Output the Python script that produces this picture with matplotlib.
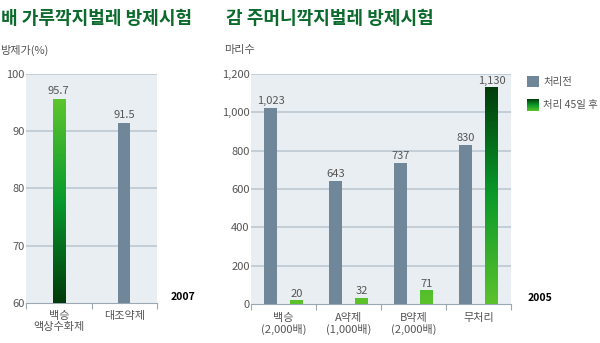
import matplotlib
matplotlib.use('Agg')
import matplotlib.pyplot as plt
from matplotlib.colors import LinearSegmentedColormap
from matplotlib.patches import Rectangle
import numpy as np

plt.rcParams['font.family'] = ['Noto Sans CJK KR', 'DejaVu Sans']

# left chart: 배 가루깍지벌레
pear_labels = ['백승\n액상수화제', '대조약제']
pear_values = [95.7, 91.5]
pear_ticks = [60, 70, 80, 90, 100]

# right chart: 감 주머니깍지벌레
pers_labels = ['백승\n(2,000배)', 'A약제\n(1,000배)', 'B약제\n(2,000배)', '무처리']
pers_before = [1023, 643, 737, 830]
pers_after = [20, 32, 71, 1130]
pers_ticks = [0, 200, 400, 600, 800, 1000, 1200]
legend_names = ['처리전', '처리 45일 후']

W, H = 600, 343
BG = '#e9eef2'
GRID = '#bcc8d2'
GRAY_BAR = '#6f8799'
TXT = '#555555'
TITLE = '#0b6a2c'

green_up = LinearSegmentedColormap.from_list('gup', ['#013a0b', '#089a2c', '#5ec52e'])
green_down = LinearSegmentedColormap.from_list('gdn', ['#5cc22c', '#0a9a2a', '#013d0b'])

fig = plt.figure(figsize=(W / 100, H / 100), dpi=100)


def px_axes(x0, x1, y0, y1):
    return fig.add_axes([x0 / W, 1 - y1 / H, (x1 - x0) / W, (y1 - y0) / H])


def style_axes(ax, ticks, fmt):
    ax.set_facecolor(BG)
    for s in ['top', 'right', 'left']:
        ax.spines[s].set_visible(False)
    ax.spines['bottom'].set_color('#9aa8b4')
    ax.set_yticks(ticks)
    ax.set_yticklabels([fmt(t) for t in ticks])
    ax.set_ylim(ticks[0], ticks[-1])
    ax.tick_params(axis='y', length=0, pad=1, labelsize=8, labelcolor=TXT)
    for t in ticks[1:]:
        ax.axhline(t, color=GRID, lw=1.2, zorder=1)


def gradient_bar(ax, x, w, val, cmap, lo, hi):
    bar = ax.bar(x, val - lo, width=w, bottom=lo, color='none', zorder=3)[0]
    grad = np.linspace(0, 1, 256).reshape(-1, 1)
    im = ax.imshow(grad, cmap=cmap, origin='lower', aspect='auto',
                   extent=(x - w / 2, x + w / 2, lo, hi), zorder=3)
    im.set_clip_path(bar)


# ---- left chart
ax1 = px_axes(26, 157, 74, 303)
style_axes(ax1, pear_ticks, lambda t: f'{t}')
ax1.set_xlim(-0.5, 1.5)
bw = 0.19
gradient_bar(ax1, 0, bw, pear_values[0], green_up, 60, pear_values[0])
ax1.bar(1, pear_values[1] - 60, width=bw, bottom=60, color=GRAY_BAR, zorder=3)
for i, v in enumerate(pear_values):
    ax1.text(i, v + 0.4, f'{v}', ha='center', va='bottom', fontsize=8, color=TXT)
ax1.set_ylim(60, 100)
ax1.set_xticks([-0.5, 0.5, 1.5], minor=False)
ax1.set_xticklabels([])
ax1.tick_params(axis='x', length=4, color='#9aa8b4')
for i, lab in enumerate(pear_labels):
    ax1.text(i, 58.6, lab, ha='center', va='top', fontsize=8, color=TXT, linespacing=1.1)
ax1.text(1.7, 60.2, '2007', ha='left', va='bottom', fontsize=7.5, fontweight='bold', color='black')

# ---- right chart
ax2 = px_axes(251, 511, 74, 304)
style_axes(ax2, pers_ticks, lambda t: f'{t:,}')
ax2.set_xlim(-0.5, 3.5)
bw2 = 0.2
xs = np.arange(len(pers_labels))
ax2.bar(xs - 0.2, pers_before, width=bw2, color=GRAY_BAR, zorder=3)
for i, v in enumerate(pers_after):
    gradient_bar(ax2, xs[i] + 0.2, bw2, v, green_down, 0, max(pers_after))
for i in range(len(xs)):
    ax2.text(xs[i] - 0.2, pers_before[i] + 8, f'{pers_before[i]:,}', ha='center', va='bottom',
             fontsize=8, color=TXT)
    ax2.text(xs[i] + 0.2, pers_after[i] + 8, f'{pers_after[i]:,}', ha='center', va='bottom',
             fontsize=8, color=TXT)
ax2.set_ylim(0, 1200)
ax2.set_xticks([-0.5, 0.5, 1.5, 2.5, 3.5])
ax2.set_xticklabels([])
ax2.tick_params(axis='x', length=4, color='#9aa8b4')
for i, lab in enumerate(pers_labels):
    ax2.text(xs[i], -45, lab, ha='center', va='top', fontsize=8, color=TXT, linespacing=1.1)
ax2.text(3.75, 5, '2005', ha='left', va='bottom', fontsize=7.5, fontweight='bold', color='black')

# legend drawn in figure pixels
fig.patches.append(Rectangle((527 / W, 1 - 87 / H), 12 / W, 11 / H, transform=fig.transFigure,
                             facecolor=GRAY_BAR, edgecolor='none'))
lax = fig.add_axes([527 / W, 1 - 111 / H, 12 / W, 12 / H])
lax.imshow(np.linspace(0, 1, 64).reshape(-1, 1), cmap=green_down, origin='lower', aspect='auto')
lax.axis('off')
fig.text(543 / W, 1 - 81.5 / H, legend_names[0], ha='left', va='center', fontsize=7.5, color=TXT)
fig.text(543 / W, 1 - 105 / H, legend_names[1], ha='left', va='center', fontsize=7.5, color=TXT)

# titles
fig.text(1 / W, 1 - 18 / H, '배 가루깍지벌레 방제시험', ha='left', va='center', fontsize=13,
         fontweight='bold', color=TITLE)
fig.text(226 / W, 1 - 18 / H, '감 주머니깍지벌레 방제시험', ha='left', va='center', fontsize=13,
         fontweight='bold', color=TITLE)
fig.text(0 / W, 1 - 50 / H, '방제가(%)', ha='left', va='center', fontsize=8, color=TXT)
fig.text(224 / W, 1 - 50 / H, '마리수', ha='left', va='center', fontsize=8, color=TXT)

fig.savefig('out.png', dpi=100)
